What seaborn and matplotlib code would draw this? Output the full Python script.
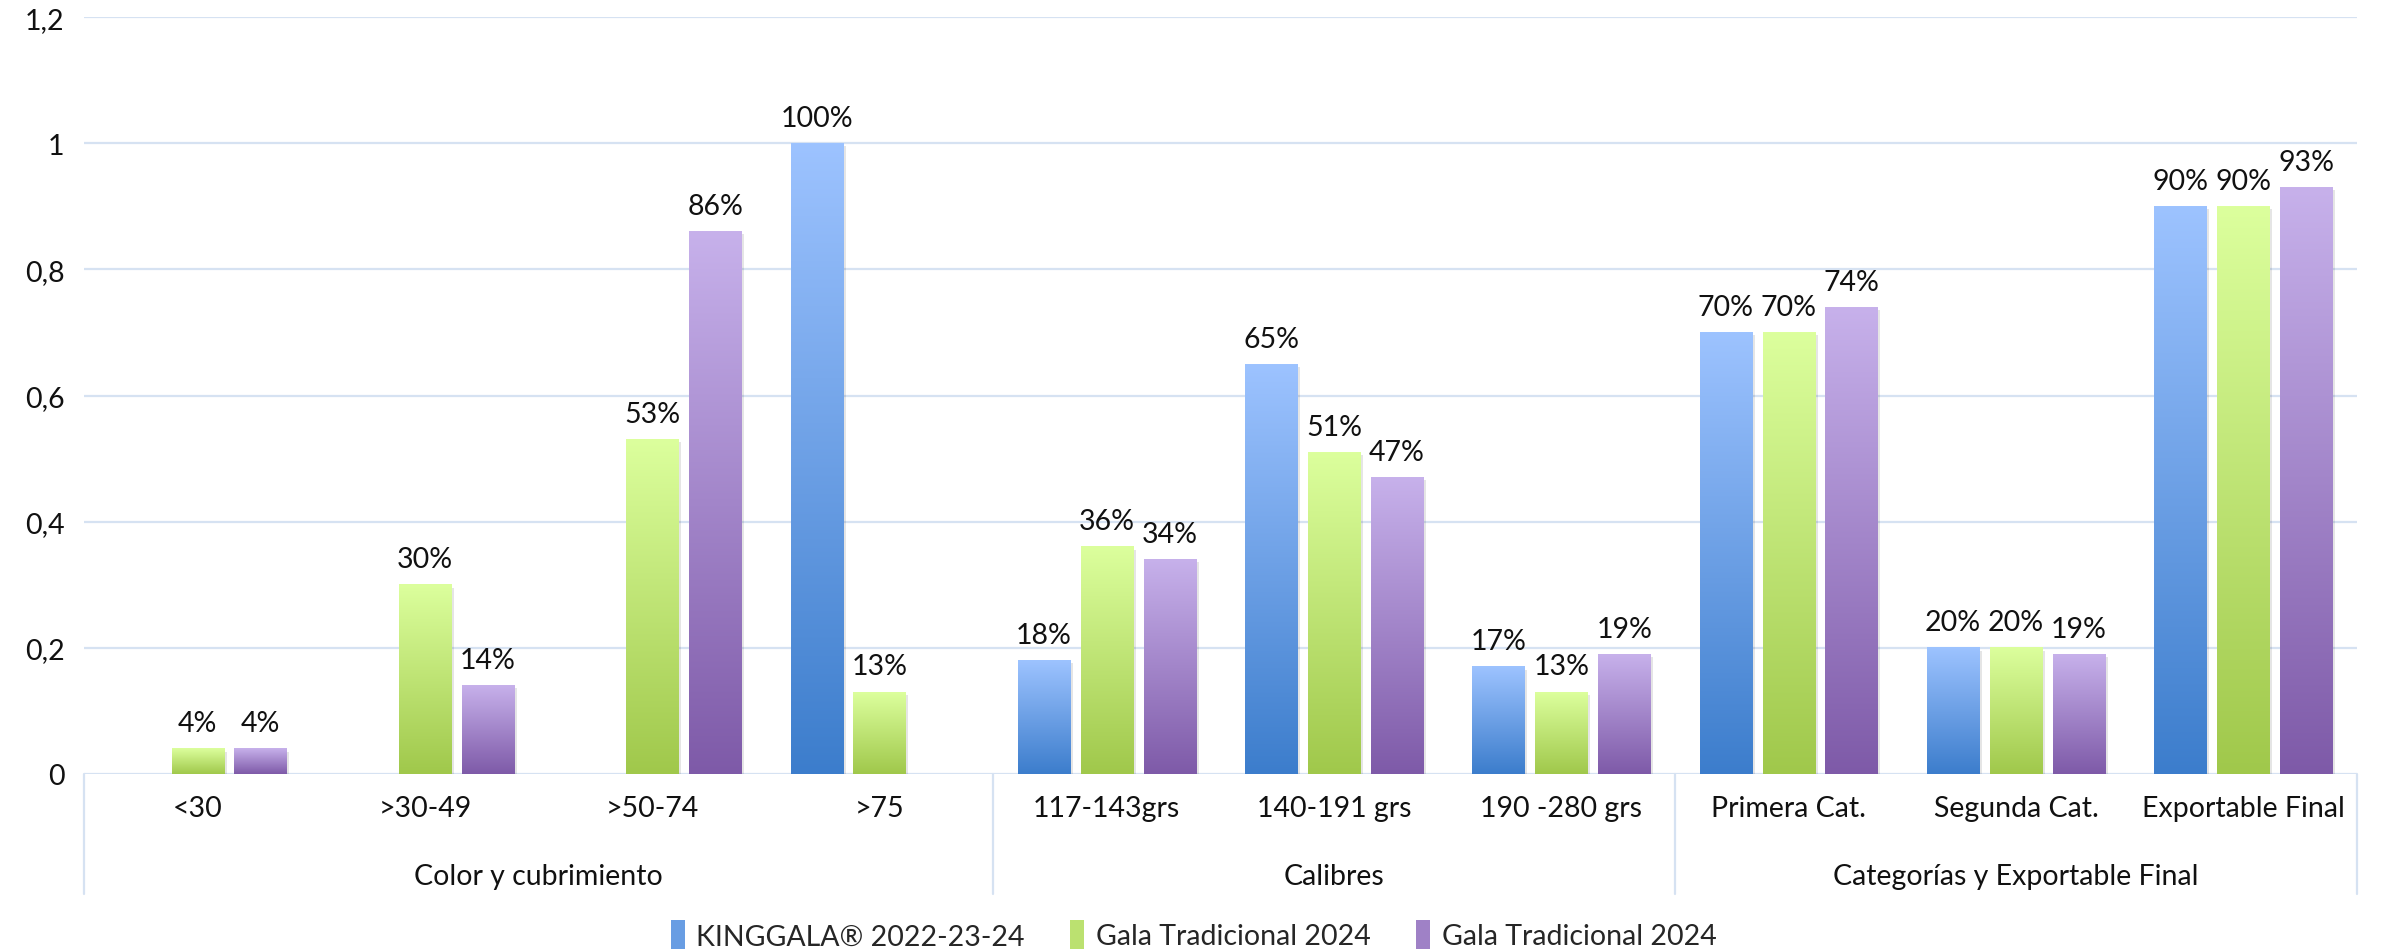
import matplotlib
matplotlib.use("Agg")
import matplotlib.pyplot as plt
import numpy as np
import pandas as pd
import seaborn as sns
from matplotlib.colors import LinearSegmentedColormap
from matplotlib.patches import Patch
from matplotlib.ticker import FuncFormatter
import matplotlib.patheffects as pe

# datos
categorias = ["<30", ">30-49", ">50-74", ">75", "117-143grs", "140-191 grs", "190 -280 grs",
              "Primera Cat.", "Segunda Cat.", "Exportable Final"]
grupos = ["Color y cubrimiento", "Calibres", "Categorías y Exportable Final"]
grupo_tamano = [4, 3, 3]
series = ["KINGGALA® 2022-23-24", "Gala Tradicional 2024", "Gala Tradicional 2024"]
kinggala = [np.nan, np.nan, np.nan, 1.00, 0.18, 0.65, 0.17, 0.70, 0.20, 0.90]
gala_a = [0.04, 0.30, 0.53, 0.13, 0.36, 0.51, 0.13, 0.70, 0.20, 0.90]
gala_b = [0.04, 0.14, 0.86, np.nan, 0.34, 0.47, 0.19, 0.74, 0.19, 0.93]
y_ticks = [0, 0.2, 0.4, 0.6, 0.8, 1.0, 1.2]

# degradados (arriba, abajo)
colores = [("#9DC3FF", "#3C7DCC"), ("#DCFF9D", "#A0C84B"), ("#C7B1EB", "#7E5AA8")]

sns.set_theme(style="white")
plt.rcParams["font.family"] = ["Lato", "DejaVu Sans"]
fs = 20.5

claves = ["s0", "s1", "s2"]
filas = []
for clave, valores in zip(claves, [kinggala, gala_a, gala_b]):
    for cat, v in zip(categorias, valores):
        filas.append({"cat": cat, "serie": clave, "valor": v})
df = pd.DataFrame(filas).dropna()

fig = plt.figure(figsize=(23.87, 9.53), dpi=100)
ax = fig.add_axes([0.0352, 0.1868, 0.9522, 0.7942])

sns.barplot(data=df, x="cat", y="valor", hue="serie", order=categorias, hue_order=claves,
            width=0.83, gap=0.17, ax=ax, legend=False, errorbar=None, saturation=1)

# relleno con degradado
for cont, (c_top, c_bot) in zip(ax.containers, colores):
    cmap = LinearSegmentedColormap.from_list("g", [c_bot, c_top])
    grad = np.linspace(0, 1, 256).reshape(-1, 1)
    for p in cont.patches:
        x, y = p.get_x(), p.get_y()
        w, h = p.get_width(), p.get_height()
        if np.isnan(h) or h == 0:
            continue
        p.set_facecolor("none")
        p.set_edgecolor("none")
        p.set_path_effects([pe.SimplePatchShadow(offset=(2, -2), shadow_rgbFace="#000000", alpha=0.10)])
        ax.imshow(grad, cmap=cmap, extent=[x, x + w, y, y + h], origin="lower",
                  aspect="auto", zorder=p.get_zorder() + 0.1, interpolation="bilinear")
    etiquetas = ["" if np.isnan(v) else f"{v * 100:.0f}%" for v in cont.datavalues]
    ax.bar_label(cont, labels=etiquetas, padding=9, fontsize=fs, color="#111111")

ax.set_xlim(-0.5, len(categorias) - 0.5)
ax.set_ylim(0, 1.2)
ax.set_yticks(y_ticks)
ax.yaxis.set_major_formatter(FuncFormatter(lambda v, _: ("%g" % round(v, 1)).replace(".", ",")))
ax.yaxis.grid(True, color="#D6E2F2", linewidth=1.6)
ax.set_axisbelow(True)
for s in ax.spines.values():
    s.set_visible(False)
ax.tick_params(axis="y", length=0, pad=14, labelsize=fs, labelcolor="#111111")
ax.tick_params(axis="x", length=0, pad=15, labelsize=fs, labelcolor="#111111")
ax.set_xlabel("")
ax.set_ylabel("")

# ejes de categorias agrupadas
trans = ax.get_xaxis_transform()
bordes = [-0.5]
for n in grupo_tamano:
    bordes.append(bordes[-1] + n)
for b in bordes:
    ax.plot([b, b], [0, -0.158], transform=trans, color="#D6E2F2", lw=1.6, clip_on=False)
for g, a, b in zip(grupos, bordes[:-1], bordes[1:]):
    ax.text((a + b) / 2, -0.135, g, transform=trans, ha="center", va="center",
            fontsize=fs, color="#111111")

handles = [Patch(facecolor=LinearSegmentedColormap.from_list("g", [cb, ct])(0.45), edgecolor="none")
           for ct, cb in colores]
fig.legend(handles, series, loc="center", bbox_to_anchor=(0.5, 0.018), ncol=3, frameon=False,
           fontsize=fs, handlelength=0.5, handleheight=1.2, handletextpad=0.4, columnspacing=1.6)

fig.savefig("out.png", dpi=100)
